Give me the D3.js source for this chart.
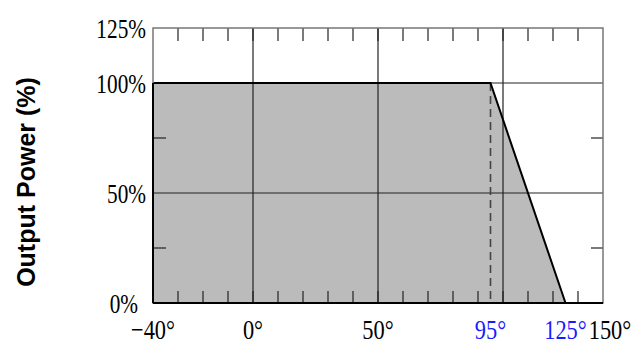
<!DOCTYPE html>
<html><head><meta charset="utf-8">
<script src="https://cdn.jsdelivr.net/npm/d3@7"></script>
<style>body{margin:0;background:#fff}</style>
</head><body>
<svg id="c" width="635" height="345"></svg>
<script>
// Derating curve: temperature (°C) vs output power (%)
const temps = [-40, 95, 125];
const power = [100, 100, 0];
const dashedAt = 95;
const xTickVals = [-40, 0, 50, 95, 125, 140];
const xTickLabels = ["\u221240\u00b0", "0\u00b0", "50\u00b0", "95\u00b0", "125\u00b0", "150\u00b0"];
const xTickColors = ["#000", "#000", "#000", "#1a1aff", "#1a1aff", "#000"];
const yTickVals = [0, 50, 100, 125];
const yTickLabels = ["0%", "50%", "100%", "125%"];
const xGrid = [0, 50, 100];
const yGrid = [50, 100];
const xMinor = d3.range(-30, 140, 10);
const yMinor = [25, 75];

const svg = d3.select("#c");
const L = 153, R = 603, T = 28, B = 303;
const x = d3.scaleLinear().domain([-40, 140]).range([L, R]);
const y = d3.scaleLinear().domain([0, 125]).range([B, T]);

// fill
const pts = [[temps[0], 0]].concat(temps.map((t, i) => [t, power[i]]));
svg.append("path")
  .attr("d", d3.line().x(d => x(d[0])).y(d => y(d[1]))(pts) + "Z")
  .attr("fill", "#bbbbbb");

// gridlines
svg.selectAll(".gx").data(xGrid).enter().append("line")
  .attr("x1", d => x(d)).attr("x2", d => x(d)).attr("y1", T).attr("y2", B)
  .attr("stroke", "#222").attr("stroke-width", 1.2);
svg.selectAll(".gy").data(yGrid).enter().append("line")
  .attr("x1", L).attr("x2", R).attr("y1", d => y(d)).attr("y2", d => y(d))
  .attr("stroke", "#222").attr("stroke-width", 1.2);

// minor ticks top/bottom
svg.selectAll(".mb").data(xMinor).enter().append("line")
  .attr("x1", d => x(d)).attr("x2", d => x(d)).attr("y1", B).attr("y2", B - 12)
  .attr("stroke", "#222").attr("stroke-width", 1.2);
svg.selectAll(".mt").data(xMinor).enter().append("line")
  .attr("x1", d => x(d)).attr("x2", d => x(d)).attr("y1", T).attr("y2", T + 13)
  .attr("stroke", "#222").attr("stroke-width", 1.2);
svg.selectAll(".ml").data(yMinor).enter().append("line")
  .attr("x1", L).attr("x2", L + 13).attr("y1", d => y(d)).attr("y2", d => y(d))
  .attr("stroke", "#222").attr("stroke-width", 1.2);
svg.selectAll(".mr").data(yMinor).enter().append("line")
  .attr("x1", R).attr("x2", R - 12).attr("y1", d => y(d)).attr("y2", d => y(d))
  .attr("stroke", "#222").attr("stroke-width", 1.2);

// dashed line
svg.append("line")
  .attr("x1", x(dashedAt)).attr("x2", x(dashedAt)).attr("y1", y(100)).attr("y2", B)
  .attr("stroke", "#444").attr("stroke-width", 1.6).attr("stroke-dasharray", "8,5");

// curve
svg.append("path")
  .attr("d", d3.line().x((d, i) => x(d)).y((d, i) => y(power[i]))(temps))
  .attr("fill", "none").attr("stroke", "#000").attr("stroke-width", 2);

// frame
svg.append("rect").attr("x", L).attr("y", T).attr("width", R - L).attr("height", B - T)
  .attr("fill", "none").attr("stroke", "#777").attr("stroke-width", 1.5);
svg.append("line").attr("x1", L).attr("x2", L).attr("y1", y(100)).attr("y2", B)
  .attr("stroke", "#000").attr("stroke-width", 2);
svg.append("line").attr("x1", L).attr("x2", R).attr("y1", B).attr("y2", B)
  .attr("stroke", "#000").attr("stroke-width", 2);

// x labels
svg.selectAll(".xl").data(xTickVals).enter().append("text")
  .attr("transform", (d, i) => `translate(${x(d) + (i === 5 ? 7 : 0)},339) scale(0.8,1)`)
  .attr("text-anchor", "middle")
  .attr("font-family", "Liberation Serif, serif").attr("font-size", 28)
  .attr("fill", (d, i) => xTickColors[i])
  .text((d, i) => xTickLabels[i]);

// y labels
svg.selectAll(".yl").data(yTickVals).enter().append("text")
  .attr("transform", (d, i) => `translate(${i === 0 ? 138 : 146},${y(d) + 10}) scale(0.76,1)`)
  .attr("text-anchor", "end")
  .attr("font-family", "Liberation Serif, serif").attr("font-size", 28)
  .attr("fill", "#000")
  .text((d, i) => yTickLabels[i]);

// y title
svg.append("text")
  .attr("transform", "translate(35,182) rotate(-90)")
  .attr("text-anchor", "middle")
  .attr("font-family", "Liberation Sans, Arial, sans-serif").attr("font-weight", "bold")
  .attr("font-size", 25).attr("fill", "#000")
  .text("Output Power (%)");
</script>
</body></html>
